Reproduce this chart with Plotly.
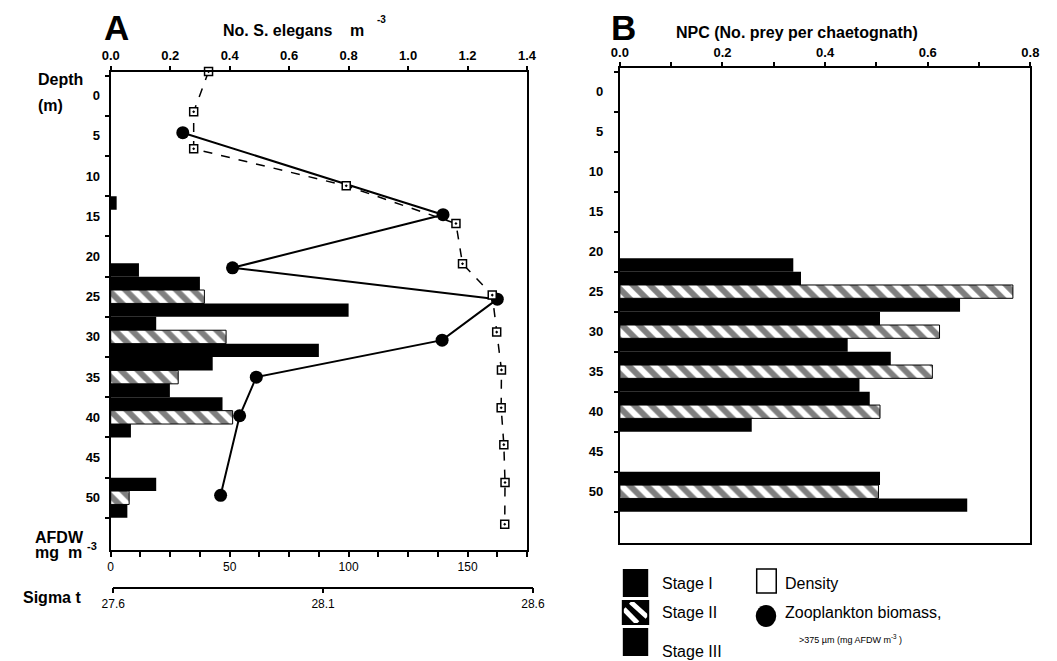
import plotly.graph_objects as go

W, H = 1057, 661
FONT = "Liberation Sans, Arial, sans-serif"

# ---------------- data ----------------
# Panel A: S. elegans stages (No. m^-3), 5 m depth bins
depth_bins_A = [15, 20, 25, 30, 35, 40, 45, 50]
stage1_A = [0.02, None, 0.30, 0.153, 0.343, 0.376, None, 0.153]
stage2_A = [None, None, 0.315, 0.388, 0.227, 0.41, None, 0.062]
stage3_A = [None, 0.095, 0.80, 0.70, 0.199, 0.068, None, 0.056]

# Panel A: total density (No. S. elegans m^-3)
density_depth = [-3, 2, 6.6, 11.2, 15.9, 20.9, 24.8, 29.4, 34.1, 38.8, 43.4, 48.1, 53.3]
density_val = [0.329, 0.279, 0.279, 0.792, 1.161, 1.183, 1.283, 1.298, 1.314, 1.313, 1.322, 1.326, 1.325]

# Panel A: zooplankton biomass (mg AFDW m^-3)
zoo_depth = [4.6, 14.8, 21.4, 25.3, 30.4, 35.0, 39.8, 49.7]
zoo_afdw = [30.3, 139.7, 51.2, 162.5, 139.3, 61.2, 54.2, 46.2]

# Panel B: NPC (No. prey per chaetognath)
depth_bins_B = [20, 25, 30, 35, 40, 45, 50]
stage1_B = [None, 0.353, 0.507, 0.528, 0.487, None, 0.507]
stage2_B = [None, 0.766, 0.623, 0.609, 0.507, None, 0.504]
stage3_B = [0.338, 0.663, 0.444, 0.467, 0.257, None, 0.677]

depth_ticks = [0, 5, 10, 15, 20, 25, 30, 35, 40, 45, 50]
depth_minor = [-2.5, 2.5, 7.5, 12.5, 17.5, 22.5, 27.5, 32.5, 37.5, 42.5, 47.5, 52.5]
sigma_ticks = [27.6, 28.1, 28.6]

# ---------------- helpers ----------------
def fx(px):
    return px / W

def fy(py):
    return 1 - py / H

BIN = 5
bar_w = BIN / 3
offsets = [-BIN / 2, -BIN / 2 + bar_w, -BIN / 2 + 2 * bar_w]

solid = dict(color="black", line=dict(color="black", width=0))
hatch = dict(color="white", line=dict(color="black", width=1),
             pattern=dict(shape="\\", fgcolor="black", bgcolor="white", size=12, solidity=0.5))

fig = go.Figure()

for vals, off, mk in zip([stage1_A, stage2_A, stage3_A], offsets, [solid, hatch, solid]):
    fig.add_trace(go.Bar(x=vals, y=depth_bins_A, orientation="h", offset=off, width=bar_w,
                         marker=mk, xaxis="x2", yaxis="y", hoverinfo="skip"))

for vals, off, mk in zip([stage1_B, stage2_B, stage3_B], offsets, [solid, hatch, solid]):
    fig.add_trace(go.Bar(x=vals, y=depth_bins_B, orientation="h", offset=off, width=bar_w,
                         marker=mk, xaxis="x4", yaxis="y2", hoverinfo="skip"))

fig.add_trace(go.Scatter(x=density_val, y=density_depth, mode="lines+markers",
                         line=dict(color="black", width=1.5, dash="dash"),
                         marker=dict(symbol="square-dot", size=8, color="white",
                                     line=dict(color="black", width=1.5)),
                         xaxis="x2", yaxis="y", cliponaxis=False))

fig.add_trace(go.Scatter(x=zoo_afdw, y=zoo_depth, mode="lines+markers",
                         line=dict(color="black", width=2),
                         marker=dict(symbol="circle", size=13, color="black"),
                         xaxis="x", yaxis="y", cliponaxis=False))

# carrier for the sigma-t axis
fig.add_trace(go.Scatter(x=sigma_ticks, y=[None] * len(sigma_ticks), mode="markers",
                         xaxis="x3", yaxis="y", hoverinfo="skip"))

tick_bold = dict(family=FONT, size=13, color="black", weight="bold")
tick_norm = dict(family=FONT, size=12, color="black")

common = dict(showgrid=False, zeroline=False, linecolor="black", tickcolor="black", fixedrange=True)

A_dom_x = [fx(101), fx(527)]
B_dom_x = [fx(622), fx(1042)]

fig.update_layout(
    width=W, height=H,
    margin=dict(l=0, r=0, t=0, b=0),
    paper_bgcolor="white", plot_bgcolor="rgba(0,0,0,0)",
    showlegend=False, barmode="overlay",
    font=dict(family=FONT, color="black"),
    xaxis=dict(domain=A_dom_x, range=[0, 175], anchor="y", side="bottom",
               showline=True, linewidth=2, ticks="outside", ticklen=5, tickwidth=1.5,
               tick0=0, dtick=50,
               minor=dict(tick0=0, dtick=12.5, ticks="outside", ticklen=5, tickwidth=1.5, tickcolor="black"),
               tickfont=tick_norm, **common),
    xaxis2=dict(domain=A_dom_x, overlaying="x", side="top", anchor="y", range=[0, 1.4],
                tick0=0, dtick=0.2, tickformat=".1f",
                showline=True, linewidth=2, ticks="outside", ticklen=4, tickwidth=1.5,
                tickfont=tick_bold, **common),
    xaxis3=dict(domain=[fx(103.6), fx(533)], anchor="free", position=fy(587.5),
                range=[27.6, 28.6], tickmode="array", tickvals=sigma_ticks,
                ticktext=[f"{v:.1f}" for v in sigma_ticks],
                showline=True, linewidth=1.5, ticks="outside", ticklen=5, tickwidth=1.5,
                tickfont=tick_norm, **common),
    yaxis=dict(domain=[fy(550), fy(71.6)], range=[56.5, -3], anchor="x",
               showline=True, mirror=True, linewidth=2,
               tickmode="array", tickvals=depth_ticks, ticks="",
               minor=dict(tickmode="array", tickvals=depth_minor, ticks="outside",
                          ticklen=4, tickwidth=1.5, tickcolor="black"),
               ticklabelstandoff=6, tickfont=tick_bold, **common),
    xaxis4=dict(domain=B_dom_x, anchor="y2", side="top", range=[0, 0.8],
                tick0=0, dtick=0.2, tickformat=".1f",
                minor=dict(tick0=0, dtick=0.1, ticks="outside", ticklen=4, tickwidth=1.5, tickcolor="black"),
                showline=True, mirror=True, linewidth=2, ticks="outside", ticklen=4, tickwidth=1.5,
                tickfont=tick_bold, **common),
    yaxis2=dict(domain=[fy(543), fy(68.3)], range=[56.4, -2.9], anchor="x4",
                showline=True, mirror=True, linewidth=2,
                tickmode="array", tickvals=depth_ticks, ticks="",
                minor=dict(tickmode="array", tickvals=depth_minor, ticks="outside",
                           ticklen=4, tickwidth=1.5, tickcolor="black"),
                ticklabelstandoff=12, tickfont=tick_bold, **common),
)

# ---------------- text ----------------
def txt(s, x, y, size=16, bold=True, xanchor="left", yanchor="middle"):
    fig.add_annotation(text=s, x=fx(x), y=fy(y), xref="paper", yref="paper",
                       showarrow=False, xanchor=xanchor, yanchor=yanchor,
                       font=dict(family=FONT, size=size, color="black",
                                 weight="bold" if bold else "normal"))

txt("A", 107, 28, size=35, xanchor="center")
txt("No. S. elegans", 272, 30, xanchor="center")
txt("m", 353, 30, xanchor="center")
txt("-3", 378, 20, size=10, xanchor="center")
txt("Depth", 25, 80)
txt("(m)", 25, 105)
txt("AFDW", 21, 537)
txt("mg  m", 21, 552)
txt("-3", 82, 546, size=11, xanchor="center")
txt("Sigma t", 9, 597)

txt("B", 626, 28, size=35, xanchor="center")
txt("NPC (No. prey per chaetognath)", 677, 32, size=16)

# ---------------- legend ----------------
def rect(x0, y0, x1, y1, fill, lc="black", lw=0):
    fig.add_shape(type="rect", xref="paper", yref="paper",
                  x0=fx(x0), x1=fx(x1), y0=fy(y1), y1=fy(y0),
                  fillcolor=fill, line=dict(color=lc, width=lw))

def seg(x0, y0, x1, y1, color, width):
    fig.add_shape(type="line", xref="paper", yref="paper",
                  x0=fx(x0), x1=fx(x1), y0=fy(y0), y1=fy(y1),
                  line=dict(color=color, width=width))

rect(625, 569, 651, 597, "black")
rect(625, 601, 651, 624, "black")
seg(633, 602, 650, 617, "white", 5)
seg(626, 609, 640, 623, "white", 5)
rect(625, 601, 651, 624, "rgba(0,0,0,0)", "black", 2)
rect(625, 628, 651, 656, "black")

rect(762, 569, 782, 593, "white", "black", 1.5)
fig.add_shape(type="circle", xref="paper", yref="paper",
              x0=fx(761), x1=fx(782), y0=fy(627), y1=fy(605),
              fillcolor="black", line=dict(color="black", width=0))

txt("Stage I", 663, 583, bold=False)
txt("Stage II", 663, 612, bold=False)
txt("Stage III", 663, 651, bold=False)
txt("Density", 789, 583, bold=False)
txt("Zooplankton biomass,", 789, 612, bold=False)
txt(">375 µm (mg AFDW m<sup>-3</sup> )", 803, 639, size=9, bold=False)

fig.write_html("out.html")
